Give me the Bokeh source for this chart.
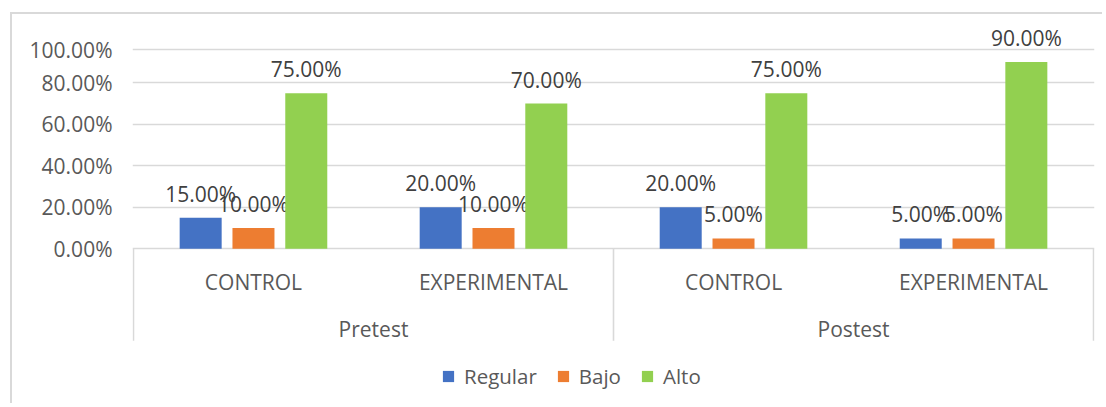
from bokeh.plotting import figure
from bokeh.models import (FactorRange, ColumnDataSource, FixedTicker, Legend,
                          LegendItem, Range1d)
from bokeh.transform import dodge
from bokeh.core.properties import value
from bokeh.embed import file_html
from bokeh.resources import INLINE

# ---- data ----
phases = ["Pretest", "Pretest", "Postest", "Postest"]
groups = ["CONTROL", "EXPERIMENTAL", "CONTROL", "EXPERIMENTAL"]
series = ["Regular", "Bajo", "Alto"]
regular = [0.15, 0.20, 0.20, 0.05]
bajo = [0.10, 0.10, 0.05, 0.05]
alto = [0.75, 0.70, 0.75, 0.90]
colors = ["#4472C4", "#ED7D31", "#92D050"]
ytick_values = [0, 0.2, 0.4, 0.6, 0.8, 0.96]
ytick_labels = ["0.00%", "20.00%", "40.00%", "60.00%", "80.00%", "100.00%"]

factors = list(zip(phases, groups))

src = ColumnDataSource(dict(
    x=factors,
    Regular=regular, Bajo=bajo, Alto=alto,
    Regular_lbl=["%.2f%%" % (v * 100) for v in regular],
    Bajo_lbl=["%.2f%%" % (v * 100) for v in bajo],
    Alto_lbl=["%.2f%%" % (v * 100) for v in alto],
))

xr = FactorRange(factors=factors, group_padding=0, factor_padding=0,
                 range_padding=0.002)

p = figure(x_range=xr, y_range=Range1d(-0.7552, 1.129),
           width=1092, height=391, output_backend="svg",
           toolbar_location=None, x_axis_location=None, title=None,
           min_border_left=120, min_border_right=10,
           min_border_top=0, min_border_bottom=0)
p.styles = {"border-left": "2px solid #d9d9d9", "border-top": "2px solid #d9d9d9",
            "margin-left": "10px", "margin-top": "12px"}
p.outline_line_color = None
p.background_fill_color = "white"
p.border_fill_color = "white"

# y axis
p.yaxis.ticker = FixedTicker(ticks=ytick_values)
p.yaxis.major_label_overrides = dict(zip(ytick_values, ytick_labels))
p.yaxis.axis_line_color = None
p.yaxis.major_tick_line_color = None
p.yaxis.minor_tick_line_color = None
p.yaxis.major_tick_out = 0
p.yaxis.major_label_standoff = 20
p.yaxis.major_label_text_font = "Open Sans"
p.yaxis.major_label_text_font_size = "21px"
p.yaxis.major_label_text_color = "#595959"
p.ygrid.grid_line_color = "#d9d9d9"
p.ygrid.grid_line_width = 1.4
p.xgrid.grid_line_color = None

offsets = [-0.22, 0.0, 0.22]
bar_w = 0.175
renderers = []
for s, off, c in zip(series, offsets, colors):
    r = p.vbar(x=dodge("x", off, range=p.x_range), top=s, width=bar_w,
               source=src, fill_color=c, line_color=None)
    renderers.append(r)
    p.text(x=dodge("x", off, range=p.x_range), y=s, text=s + "_lbl", source=src,
           text_align="center", text_baseline="alphabetic", y_offset=-24,
           text_font=value("Open Sans"), text_font_size="21px",
           text_color="#404040")

# category labels (inner level)
p.text(x=factors, y=[0] * len(factors), text=groups, text_align="center",
       text_baseline="alphabetic", y_offset=33, text_font=value("Open Sans"),
       text_font_size="21px", text_color="#595959")
# outer level
outer = list(dict.fromkeys(phases))
p.text(x=outer, y=[0] * len(outer), text=outer, text_align="center",
       text_baseline="alphabetic", y_offset=80, text_font=value("Open Sans"),
       text_font_size="21px", text_color="#595959")

# separators of the category axis
firsts = [f for i, f in enumerate(factors) if i == 0 or factors[i - 1][0] != f[0]]
p.ray(x=dodge("x", -0.5, range=p.x_range), y="y", source=ColumnDataSource(
    dict(x=firsts, y=[0] * len(firsts))), length=92, length_units="screen",
    angle=-1.5707963, line_color="#d9d9d9", line_width=1.6)
p.ray(x=dodge("x", 0.5, range=p.x_range), y="y", source=ColumnDataSource(
    dict(x=[factors[-1]], y=[0])), length=92, length_units="screen",
    angle=-1.5707963, line_color="#d9d9d9", line_width=1.6)

legend = Legend(items=[LegendItem(label=s, renderers=[r]) for s, r in zip(series, renderers)],
                orientation="horizontal", location=(309, 15),
                glyph_width=14, glyph_height=14, label_standoff=9, spacing=19,
                padding=0, margin=0, border_line_color=None,
                background_fill_alpha=0,
                label_text_font="Open Sans", label_text_font_size="20.5px",
                label_text_color="#595959")
p.add_layout(legend)

open("out.html", "w").write(file_html(p, INLINE))
